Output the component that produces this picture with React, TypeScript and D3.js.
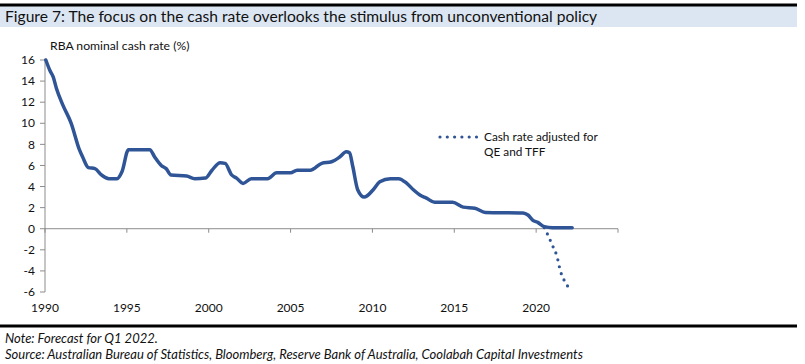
import React from "react";
import * as d3 from "d3";

const yTicks = [16, 14, 12, 10, 8, 6, 4, 2, 0, -2, -4, -6];
const xTickYears = [1990, 1995, 2000, 2005, 2010, 2015, 2020];

// [year, cash rate %]
const cashRate: [number, number][] = [
  [1990.05, 16.0], [1990.3, 15.0], [1990.5, 14.4], [1990.7, 13.3], [1991.1, 11.7],
  [1991.6, 10.0], [1992.1, 7.5], [1992.3, 6.8], [1992.65, 5.8], [1993.05, 5.7],
  [1993.45, 5.1], [1993.9, 4.75], [1994.4, 4.75], [1994.7, 5.4], [1995.1, 7.5],
  [1996.4, 7.5], [1996.7, 6.8], [1997.1, 6.0], [1997.4, 5.7], [1997.7, 5.1],
  [1998.65, 5.0], [1999.15, 4.75], [1999.8, 4.8], [2000.2, 5.55], [2000.7, 6.25],
  [2001.0, 6.2], [2001.4, 5.1], [2001.7, 4.8], [2002.1, 4.3], [2002.6, 4.75],
  [2003.6, 4.75], [2004.15, 5.3], [2005.0, 5.3], [2005.4, 5.55], [2006.2, 5.55],
  [2006.9, 6.2], [2007.5, 6.35], [2008.0, 6.8], [2008.4, 7.3], [2008.6, 7.2],
  [2008.8, 5.9], [2009.1, 3.7], [2009.5, 3.0], [2010.05, 3.7], [2010.45, 4.45],
  [2011.1, 4.75], [2011.6, 4.75], [2012.1, 4.3], [2012.5, 3.7], [2012.9, 3.2],
  [2013.3, 2.9], [2013.8, 2.5], [2014.9, 2.5], [2015.55, 2.05], [2016.25, 1.95],
  [2016.9, 1.55], [2019.2, 1.5], [2019.5, 1.3], [2019.8, 0.8], [2020.1, 0.6],
  [2020.5, 0.2], [2021.0, 0.1], [2022.2, 0.1],
];

const adjustedRate: [number, number][] = [
  [2020.5, 0.1], [2020.75, -0.7], [2021.0, -1.6], [2021.25, -2.5],
  [2021.5, -4.1], [2021.75, -5.0], [2022.05, -5.7],
];

const title = "Figure 7: The focus on the cash rate overlooks the stimulus from unconventional policy";
const yAxisTitle = "RBA nominal cash rate (%)";
const legendLines = ["Cash rate adjusted for", "QE and TFF"];
const note = "Note: Forecast for Q1 2022.";
const source = "Source: Australian Bureau of Statistics, Bloomberg, Reserve Bank of Australia, Coolabah Capital Investments";

export default function App() {
  const W = 805, H = 364;
  const font = "Lato, 'Open Sans', sans-serif";
  const x = d3.scaleLinear().domain([1990, 2025]).range([45, 618]);
  const y = d3.scaleLinear().domain([-6, 16]).range([292, 60]);
  const blue = "#2F5597";

  const line = d3
    .line<[number, number]>()
    .x((d) => x(d[0]))
    .y((d) => y(d[1]))
    .curve(d3.curveMonotoneX);

  return (
    <svg
      width={W}
      height={H}
      style={{ position: "absolute", left: 0, top: 0, background: "#fff" }}
      fontFamily={font}
    >
      {/* title band */}
      <rect x={0} y={6} width={797} height={21} fill="#DCE6F2" />
      <line x1={0} x2={797} y1={5} y2={5} stroke="#000" strokeWidth={3} />
      <text x={5} y={22} fontSize={15.6} fill="#111">{title}</text>

      {/* y axis title */}
      <text x={50} y={50} fontSize={12.2} fill="#111">{yAxisTitle}</text>

      {/* axes */}
      <line x1={45} x2={45} y1={y(16)} y2={y(-6)} stroke="#8c8c8c" strokeWidth={1} />
      {yTicks.map((t) => (
        <g key={t}>
          <line x1={40} x2={45} y1={y(t)} y2={y(t)} stroke="#8c8c8c" />
          <text x={35} y={y(t)} dy="0.35em" textAnchor="end" fontSize={12} fill="#111">
            {t}
          </text>
        </g>
      ))}
      <line x1={x(1990)} x2={x(2025)} y1={y(0)} y2={y(0)} stroke="#8c8c8c" strokeWidth={1} />
      {[...xTickYears, 2025].map((t) => (
        <line key={t} x1={x(t)} x2={x(t)} y1={y(0)} y2={y(0) + 4} stroke="#8c8c8c" />
      ))}
      {xTickYears.map((t) => (
        <text key={t} x={x(t)} y={312} textAnchor="middle" fontSize={12} fill="#111">
          {t}
        </text>
      ))}

      {/* series */}
      <path d={line(adjustedRate) || ""} fill="none" stroke={blue} strokeWidth={3.2}
        strokeDasharray="0 7" strokeLinecap="round" />
      <path d={line(cashRate) || ""} fill="none" stroke={blue} strokeWidth={3.5}
        strokeLinejoin="round" strokeLinecap="round" />

      {/* legend */}
      <line x1={440} x2={477} y1={137} y2={137} stroke={blue} strokeWidth={3.2}
        strokeDasharray="0 7.3" strokeLinecap="round" />
      <text x={484} y={141} fontSize={11.8} fill="#111">{legendLines[0]}</text>
      <text x={484} y={156} fontSize={11.8} fill="#111">{legendLines[1]}</text>

      {/* bottom */}
      <line x1={0} x2={797} y1={326} y2={326} stroke="#000" strokeWidth={3} />
      <text x={5} y={343} fontSize={13} fontStyle="italic" fill="#111">{note}</text>
      <text x={5} y={359} fontSize={13} fontStyle="italic" fill="#111">{source}</text>
    </svg>
  );
}
